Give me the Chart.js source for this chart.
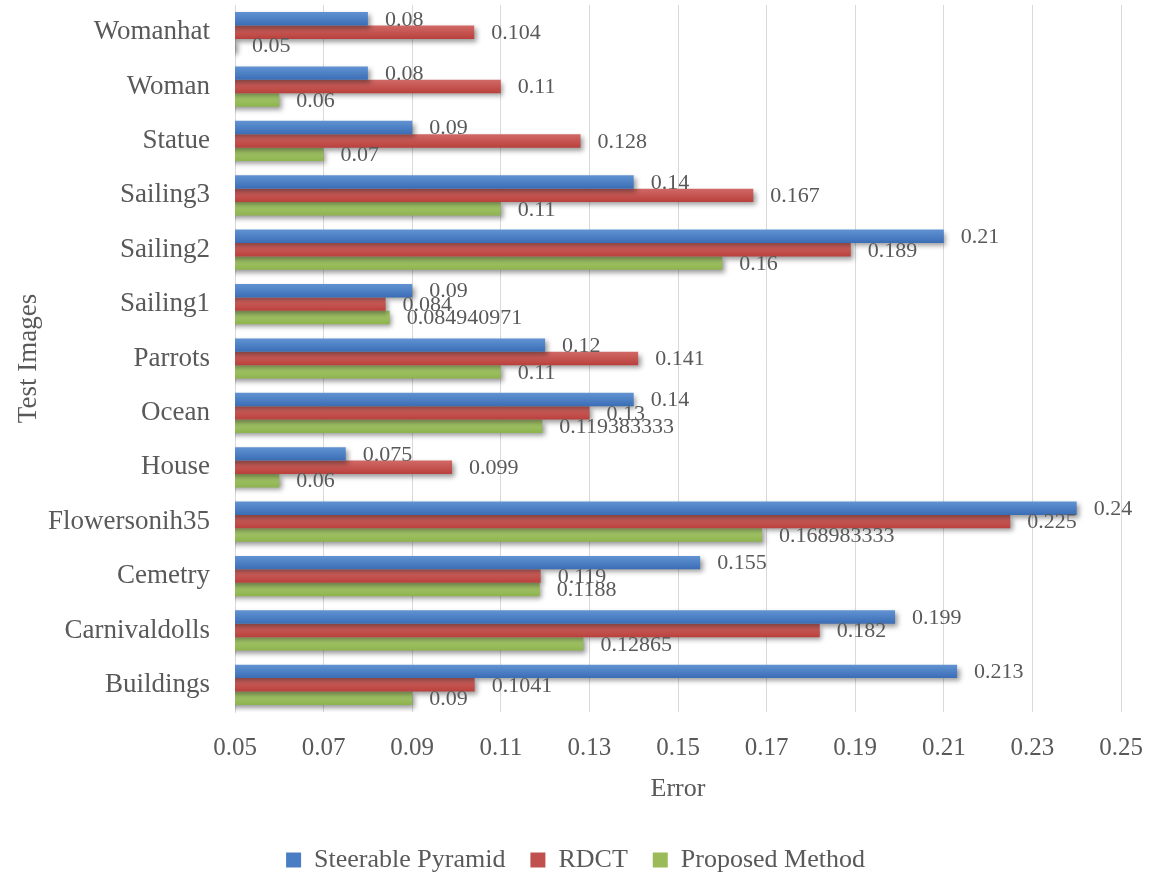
<!DOCTYPE html>
<html>
<head>
<meta charset="utf-8">
<script src="https://cdn.jsdelivr.net/npm/chart.js@4/dist/chart.umd.min.js"></script>
<style>
  html, body { margin: 0; padding: 0; background: #ffffff; }
  #wrap { width: 1151px; height: 875px; position: relative; }
</style>
</head>
<body>
<div id="wrap"><canvas id="c" width="1151" height="875"></canvas></div>
<script>
// Test images, listed top to bottom
const categories = ['Womanhat', 'Woman', 'Statue', 'Sailing3', 'Sailing2', 'Sailing1', 'Parrots',
  'Ocean', 'House', 'Flowersonih35', 'Cemetry', 'Carnivaldolls', 'Buildings'];

const steerablePyramid = [0.08, 0.08, 0.09, 0.14, 0.21, 0.09, 0.12, 0.14, 0.075, 0.24, 0.155, 0.199, 0.213];
const rdct = [0.104, 0.11, 0.128, 0.167, 0.189, 0.084, 0.141, 0.13, 0.099, 0.225, 0.119, 0.182, 0.1041];
const proposedMethod = [0.05, 0.06, 0.07, 0.11, 0.16, 0.084940971, 0.11, 0.119383333, 0.06, 0.168983333, 0.1188, 0.12865, 0.09];

const seriesNames = ['Steerable Pyramid', 'RDCT', 'Proposed Method'];
const xTicks = [0.05, 0.07, 0.09, 0.11, 0.13, 0.15, 0.17, 0.19, 0.21, 0.23, 0.25];

const FONT = "'Liberation Serif', 'Times New Roman', serif";
const TEXT = '#595959';
const CAT_PCT = 0.74;

// [top, bottom, legend swatch]
const palettes = [
  ['#6193D3', '#3A6DB5', '#4A7EC4'],
  ['#D16966', '#B9403C', '#C0504D'],
  ['#ABCB72', '#8DB34E', '#9BBB59']
];

// Each bar gets a soft top-to-bottom gradient, positioned from the category scale
function barFill(dsIndex) {
  return function (c) {
    const chart = c.chart;
    const ys = chart.scales && chart.scales.y;
    const pal = palettes[dsIndex];
    if (c.type !== 'data' || !ys || !ys.height) return pal[2];
    const band = ys.height / categories.length;
    const group = band * CAT_PCT;
    const thick = group / 3;
    const center = ys.getPixelForValue(c.dataIndex);
    const top = center - group / 2 + dsIndex * thick;
    const g = chart.ctx.createLinearGradient(0, top, 0, top + thick);
    g.addColorStop(0, pal[0]);
    g.addColorStop(1, pal[1]);
    return g;
  };
}

// Shadow under the bars, then value labels after them
const barDecor = {
  id: 'barDecor',
  beforeDatasetsDraw(chart) {
    const ctx = chart.ctx;
    ctx.save();
    ctx.shadowColor = 'rgba(0,0,0,0.4)';
    ctx.shadowBlur = 5;
    ctx.shadowOffsetX = 2.5;
    ctx.shadowOffsetY = 3;
  },
  afterDatasetsDraw(chart) {
    const ctx = chart.ctx;
    ctx.restore();
    ctx.save();
    ctx.font = '22px ' + FONT;
    ctx.fillStyle = TEXT;
    ctx.textAlign = 'left';
    ctx.textBaseline = 'middle';
    chart.data.datasets.forEach((ds, di) => {
      const meta = chart.getDatasetMeta(di);
      meta.data.forEach((bar, i) => {
        ctx.fillText(String(ds.data[i]), bar.x + 17, bar.y + 1);
      });
    });
    ctx.restore();
  }
};

const seriesData = [steerablePyramid, rdct, proposedMethod];

new Chart(document.getElementById('c'), {
  type: 'bar',
  data: {
    labels: categories,
    datasets: seriesData.map((d, i) => ({
      label: seriesNames[i],
      data: d,
      backgroundColor: barFill(i),
      borderWidth: 0,
      categoryPercentage: CAT_PCT,
      barPercentage: 1.0
    }))
  },
  options: {
    indexAxis: 'y',
    responsive: false,
    animation: false,
    layout: { padding: { left: 0, right: 0, top: 5, bottom: -8 } },
    scales: {
      x: {
        type: 'linear',
        min: 0.05,
        max: 0.25,
        base: 0.05,
        afterBuildTicks(scale) { scale.ticks = xTicks.map(v => ({ value: v })); },
        afterFit(scale) {
          scale.height = 110;
          scale.paddingLeft = 0;
          scale.paddingRight = 30;
        },
        ticks: {
          color: TEXT,
          font: { family: FONT, size: 25 },
          padding: 21,
          maxRotation: 0,
          callback: v => String(v)
        },
        grid: { color: '#D9D9D9', lineWidth: 1, drawTicks: false },
        border: { display: false },
        title: {
          display: true,
          text: 'Error',
          color: TEXT,
          font: { family: FONT, size: 26 },
          padding: { top: 0, bottom: 17 }
        }
      },
      y: {
        afterFit(scale) {
          scale.width = 235;
          scale.paddingTop = 0;
          scale.paddingBottom = 0;
        },
        ticks: {
          color: TEXT,
          font: { family: FONT, size: 27 },
          padding: 25
        },
        grid: { display: false, drawTicks: false },
        border: { display: true, color: '#D9D9D9', width: 1 },
        title: {
          display: true,
          text: 'Test Images',
          color: TEXT,
          font: { family: FONT, size: 27 },
          padding: { top: 13, bottom: 0 }
        }
      }
    },
    plugins: {
      legend: {
        position: 'bottom',
        labels: {
          color: TEXT,
          font: { family: FONT, size: 26 },
          boxWidth: 15,
          boxHeight: 15,
          padding: 25,
          generateLabels(chart) {
            return chart.data.datasets.map((ds, i) => ({
              text: ds.label,
              fillStyle: palettes[i][2],
              strokeStyle: palettes[i][2],
              lineWidth: 0,
              hidden: false,
              datasetIndex: i,
              fontColor: TEXT
            }));
          }
        }
      },
      tooltip: { enabled: false }
    }
  },
  plugins: [barDecor]
});
</script>
</body>
</html>
